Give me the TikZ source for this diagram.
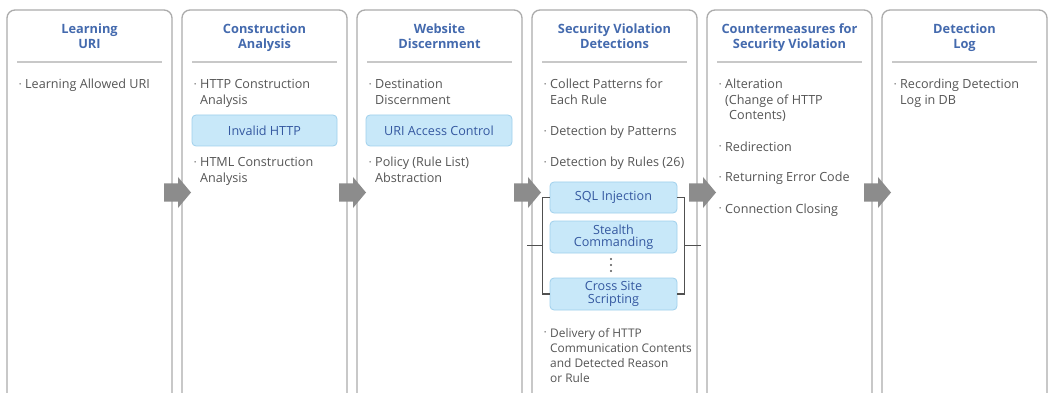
\documentclass[tikz,border=0pt]{standalone}
\usepackage{fontspec}
\setmainfont{Open Sans}
\usetikzlibrary{calc}
\definecolor{hdr}{RGB}{68,106,174}
\definecolor{txt}{RGB}{85,85,85}
\definecolor{pnl}{RGB}{172,172,172}
\definecolor{sep}{RGB}{200,200,200}
\definecolor{bxfill}{RGB}{200,232,249}
\definecolor{bxdraw}{RGB}{160,208,236}
\definecolor{bxtxt}{RGB}{52,88,160}
\definecolor{arr}{RGB}{140,140,140}
\definecolor{brk}{RGB}{80,80,80}
\newcommand\bl{\makebox[6pt][l]{\raisebox{2.5pt}{\fontsize{6}{6}\selectfont •}}}
\newcommand\ind{\hspace*{6pt}}
\newcommand\items[2][12.6]{\parbox[t]{160pt}{\fontsize{#1}{15.3}\selectfont\raggedright #2}}
\newcommand\heads[1]{\parbox[t]{160pt}{\fontsize{12.8}{14.5}\selectfont\bfseries\centering #1}}
\tikzset{
  panel/.style={draw=pnl, line width=1.3pt, rounded corners=8pt, fill=white},
  sepline/.style={draw=sep, line width=1.6pt},
  head/.style={anchor=base, inner sep=0pt, text=hdr},
  item/.style={anchor=base west, inner sep=0pt, text=txt},
  bluebox/.style={draw=bxdraw, line width=0.8pt, fill=bxfill, rounded corners=4pt,
     text=bxtxt, font=\fontsize{12.6}{12.5}\selectfont, align=center, inner sep=0pt},
  flowarrow/.style={fill=arr, draw=none},
  bracket/.style={draw=brk, line width=1.1pt},
}
\begin{document}
\begin{tikzpicture}[x=1pt,y=-1pt]
\clip (0,0) rectangle (1050,393);
\fill[white] (0,0) rectangle (1050,393);
% panels
\foreach \i in {0,...,5}{
  \pgfmathsetmacro\L{7+175*\i}
  \path[panel] (\L,10) rectangle ++(165,392);
  \draw[sepline] (\L+10,62) -- ++(145,0);
}
% headers
\node[head] (h1) at (89.5,34) {\heads{Learning\\URI}};
\node[head] (h2) at (264.5,34) {\heads{Construction\\Analysis}};
\node[head] (h3) at (439.5,34) {\heads{Website\\Discernment}};
\node[head] (h4) at (614.5,34) {\heads{Security Violation\\Detections}};
\node[head] (h5) at (789.5,34) {\heads{Countermeasures for\\Security Violation}};
\node[head] (h6) at (964.5,34) {\heads{Detection\\Log}};
% panel 1
\node[item] (a1) at (19,89) {\items{\bl Learning Allowed URI}};
% panel 2
\node[item] (b1) at (194,89) {\items{\bl HTTP Construction\\\ind Analysis}};
\node[bluebox, minimum width=145pt, minimum height=31pt] (inv) at (264.5,130.5) {Invalid HTTP};
\node[item] (b2) at (194,167) {\items{\bl HTML Construction\\\ind Analysis}};
% panel 3
\node[item] (c1) at (369,89) {\items{\bl Destination\\\ind Discernment}};
\node[bluebox, minimum width=146pt, minimum height=31pt] (uri) at (439,130.5) {URI Access Control};
\node[item] (c2) at (369,167) {\items{\bl Policy (Rule List)\\\ind Abstraction}};
% panel 4
\node[item] (d1) at (544,89) {\items{\bl Collect Patterns for\\\ind Each Rule}};
\node[item] (d2) at (544,136) {\items{\bl Detection by Patterns}};
\node[item] (d3) at (544,167) {\items{\bl Detection by Rules (26)}};
\node[bluebox, minimum width=127pt, minimum height=31pt] (sql) at (613.5,197.5) {SQL Injection};
\node[bluebox, minimum width=127pt, minimum height=32pt] (ste) at (613.5,237) {Stealth\\Commanding};
\node[bluebox, minimum width=127pt, minimum height=32pt] (xss) at (613.5,294) {Cross Site\\Scripting};
\foreach \yy in {259,265,271} \fill[txt] (611,\yy) circle (1.1pt);
\node[item] (d4) at (544,337) {\items[11.9]{\bl Delivery of HTTP\\\ind Communication Contents\\\ind and Detected Reason\\\ind or Rule}};
% brackets
\coordinate (lb) at ($(sql.west)+(-7,0)$);
\coordinate (rb) at ($(sql.east)+(7,0)$);
\draw[bracket] (sql.west) -- (lb) |- (xss.west);
\draw[bracket] (sql.east) -- (rb) |- (xss.east);
\coordinate (lm) at ($(lb)!0.5!(lb|-xss.west)$);
\coordinate (rm) at ($(rb)!0.5!(rb|-xss.east)$);
\coordinate (lmo) at ($(lm)+(-16,0)$);
\coordinate (rmo) at ($(rm)+(17,0)$);
\draw[bracket] (lm) -- (lmo);
\draw[bracket] (rm) -- (rmo);
% panel 5
\node[item] (e1) at (719,89) {\items{\bl Alteration\\\ind (Change of HTTP\\\ind\hspace*{4pt}Contents)}};
\node[item] (e2) at (719,151.5) {\items{\bl Redirection}};
\node[item] (e3) at (719,182) {\items{\bl Returning Error Code}};
\node[item] (e4) at (719,213) {\items{\bl Connection Closing}};
% panel 6
\node[item] (f1) at (894,89) {\items{\bl Recording Detection\\\ind Log in DB}};
% flow arrows
\foreach \c in {177,352,527,702,877}{
  \fill[flowarrow] (\c-13,183.5) -- (\c+1,183.5) -- (\c+1,177) -- (\c+14,192.5)
     -- (\c+1,208) -- (\c+1,201.5) -- (\c-13,201.5) -- cycle;
}
\end{tikzpicture}
\end{document}
